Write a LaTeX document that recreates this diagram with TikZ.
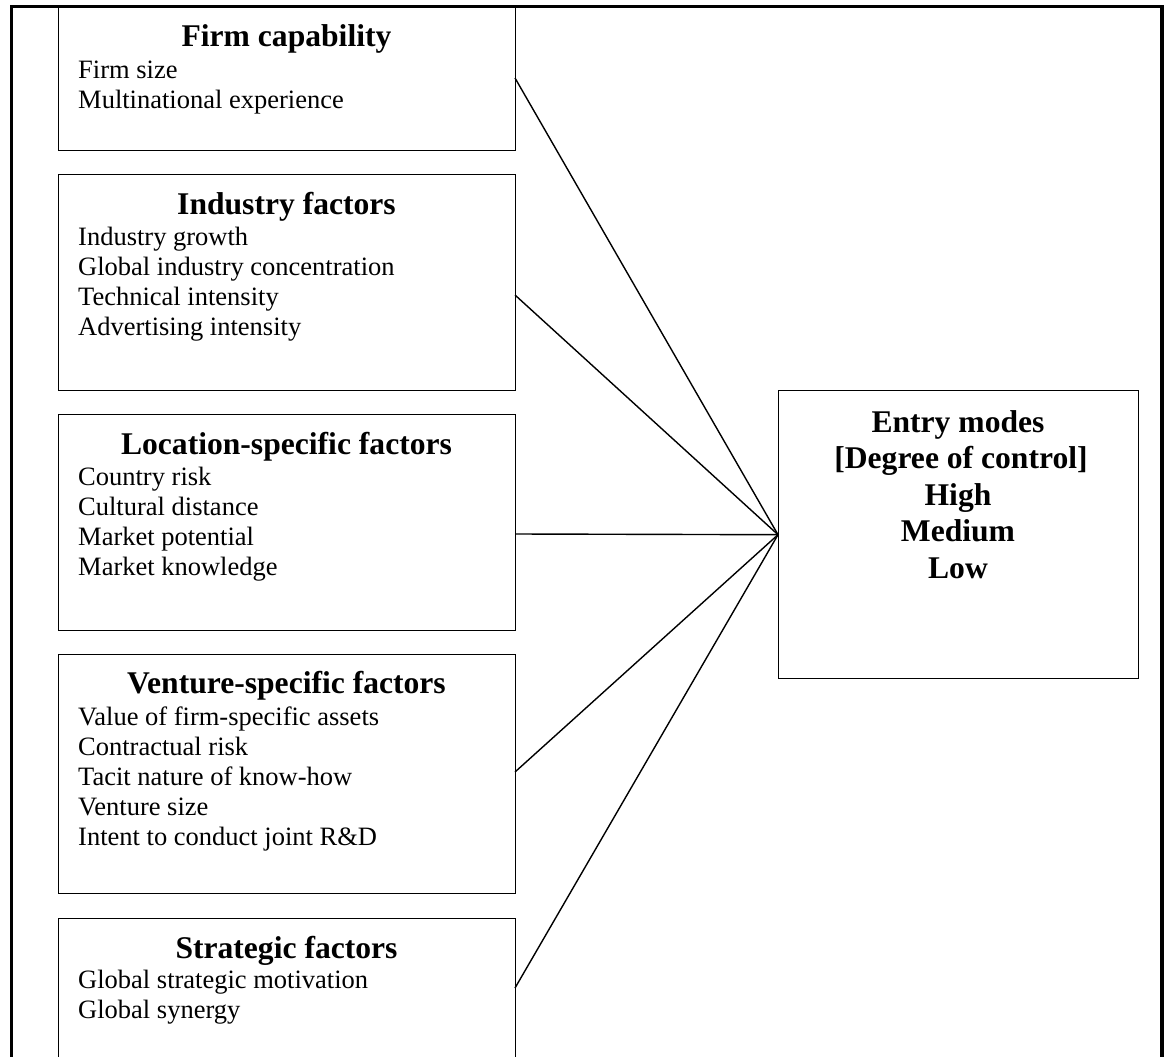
\documentclass[tikz,border=0pt]{standalone}
\usepackage{fontspec}
\setmainfont{Liberation Serif}
\begin{document}
\begin{tikzpicture}[x=1pt,y=-1pt,
  outerframe/.style={line width=3.2pt, line cap=rect},
  factorbox/.style={draw, line width=1.4pt, anchor=north west, inner sep=0pt,
                    minimum width=457pt},
  entrybox/.style={draw, line width=1.4pt, anchor=north west, inner sep=0pt,
                   minimum width=360pt, minimum height=288pt},
  link/.style={line width=1.4pt},
  boxtitle/.style={anchor=base, inner sep=0pt, font=\bfseries\fontsize{31.6}{37}\selectfont},
  boxitem/.style={anchor=base west, inner sep=0pt, font=\fontsize{26.5}{30}\selectfont},
  entryline/.style={anchor=base, inner sep=0pt, font=\bfseries\fontsize{31.6}{37}\selectfont}]

\useasboundingbox (0,0) rectangle (1165,1057);
\fill[white] (0,0) rectangle (1165,1057);
\clip (0,0) rectangle (1165,1057);

% outer frame, open at the bottom
\draw[outerframe] (11.7,1080) -- (11.7,6.5) -- (1162,6.5) -- (1162,1080);

% factor boxes
\node[factorbox, minimum height=143pt] (firm) at (58,7) {};
\node[factorbox, minimum height=216pt] (industry) at (58,174) {};
\node[factorbox, minimum height=216pt] (location) at (58,414) {};
\node[factorbox, minimum height=239pt] (venture) at (58,654) {};
\node[factorbox, minimum height=180pt] (strategic) at (58,918) {};

% Firm capability
\node[boxtitle] (firm-t) at (286.5,47) {Firm capability};
\node[boxitem] (firm-1) at (78,78) {Firm size};
\node[boxitem] (firm-2) at (78,108) {Multinational experience};

% Industry factors
\node[boxtitle] (industry-t) at (286.5,214) {Industry factors};
\node[boxitem] (industry-1) at (78,245) {Industry growth};
\node[boxitem] (industry-2) at (78,275) {Global industry concentration};
\node[boxitem] (industry-3) at (78,305) {Technical intensity};
\node[boxitem] (industry-4) at (78,335) {Advertising intensity};

% Location-specific factors
\node[boxtitle] (location-t) at (286.5,454) {Location-specific factors};
\node[boxitem] (location-1) at (78,485) {Country risk};
\node[boxitem] (location-2) at (78,515) {Cultural distance};
\node[boxitem] (location-3) at (78,545) {Market potential};
\node[boxitem] (location-4) at (78,575) {Market knowledge};

% Venture-specific factors
\node[boxtitle] (venture-t) at (286.5,693) {Venture-specific factors};
\node[boxitem] (venture-1) at (78,725) {Value of firm-specific assets};
\node[boxitem] (venture-2) at (78,755) {Contractual risk};
\node[boxitem] (venture-3) at (78,785) {Tacit nature of know-how};
\node[boxitem] (venture-4) at (78,815) {Venture size};
\node[boxitem] (venture-5) at (78,845) {Intent to conduct joint R\&D};

% Strategic factors
\node[boxtitle] (strategic-t) at (286.5,958) {Strategic factors};
\node[boxitem] (strategic-1) at (78,988) {Global strategic motivation};
\node[boxitem] (strategic-2) at (78,1018) {Global synergy};

% Entry modes
\node[entrybox] (entry) at (778,390) {};
\node[entryline] (entry-1) at (958,432) {Entry modes};
\node[entryline] (entry-2) at (961,468.5) {[Degree of control]};
\node[entryline] (entry-3) at (958,505) {High};
\node[entryline] (entry-4) at (958,541.5) {Medium};
\node[entryline] (entry-5) at (958,578) {Low};

% exit points on the right side of the factor boxes
\coordinate (firm-out) at (515,78);
\coordinate (industry-out) at (515,295);
\coordinate (location-out) at (515,534);
\coordinate (venture-out) at (515,772);
\coordinate (strategic-out) at (515,988);

% connectors
\foreach \src in {firm,industry,location,venture,strategic}
  \draw[link] (\src-out) -- (entry.west);

\end{tikzpicture}
\end{document}
